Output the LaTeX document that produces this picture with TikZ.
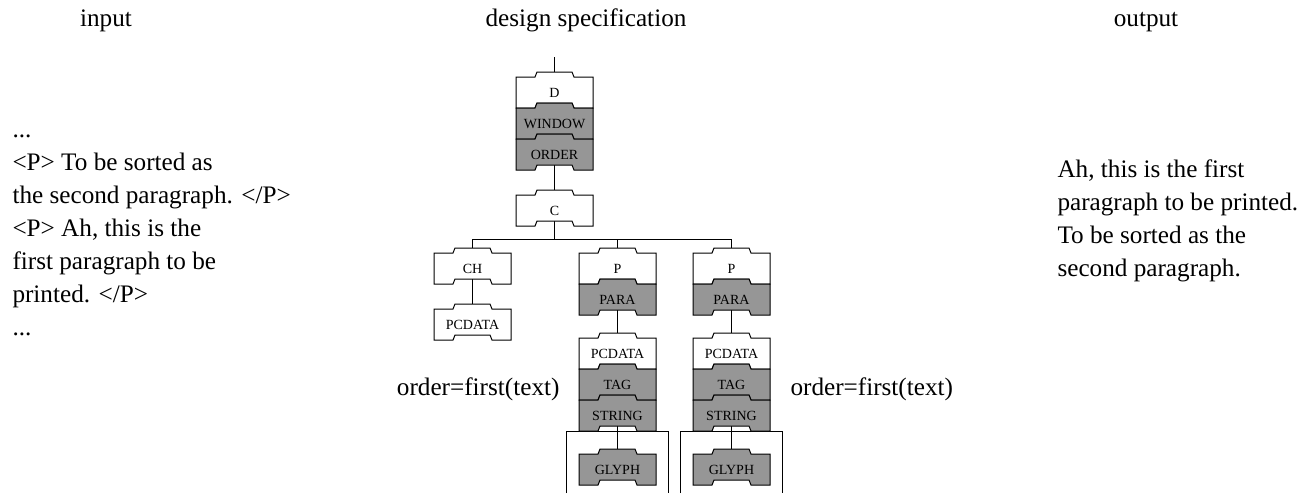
\documentclass[tikz,border=0pt]{standalone}
\usepackage{fontspec}
\setmainfont{Liberation Serif}
\usetikzlibrary{backgrounds}
\definecolor{g1}{RGB}{150,150,150}

% #1 fill, #2 name, #3 centre, #4 label
\newcommand\piece[4]{%
    \filldraw[fill=#1] (#3) ++(-38.5,15.5) -- ++(19,0) -- ++(2,5)
        -- ++(35,0) -- ++(2,-5) -- ++(19,0) -- ++(0,-31) -- ++(-19,0)
        -- ++(-2,5) -- ++(-35,0) -- ++(-2,-5) -- ++(-19,0) -- cycle;
    \node[piece] (#2) at (#3) {#4};
}

\begin{document}
\begin{tikzpicture}[
    x=0.5pt, y=0.5pt,
    line width=0.5pt,
    every node/.style={
        font=\fontsize{12.6}{16.5}\selectfont
    },
    piece/.style={
        minimum width=38.5pt, minimum height=15.5pt, inner sep=0pt,
        font=\fontsize{7}{8}\selectfont
    },
    txt/.style={
        align=left, anchor=north west, inner sep=0pt
    },
    lbl/.style={
        anchor=base, inner sep=0pt
    }
]
    \useasboundingbox (0,0) rectangle (1315,-493);

    \node[lbl] (input) at (106,-26) {input};
    \node[lbl] (spec) at (586,-26) {design specification};
    \node[lbl] (output) at (1146,-26) {output};

    \node[txt] (source) at (12,-114) {\strut...\\
        <P> To be sorted as\\
        the second paragraph. </P>\\
        <P> Ah, this is the\\
        first paragraph to be\\
        printed. </P>\\
        ...};
    \node[txt] (result) at (1057,-154) {\strut Ah, this is the first\\
        paragraph to be printed.\\
        To be sorted as the\\
        second paragraph.};

    \piece{white}{d}{554.5,-92.5}{D}
    \piece{g1}{window}{554.5,-123.5}{WINDOW}
    \piece{g1}{order}{554.5,-154.5}{ORDER}
    \piece{white}{c}{554.5,-210.5}{C}
    \piece{white}{ch}{472.5,-268.5}{CH}
    \piece{white}{pcdata}{472.5,-324.5}{PCDATA}

    \begin{scope}[shift={(617.5,0)}]
    \draw (-51,-493) |- (51,-431) -- (51,-493);
    \piece{white}{p1}{0,-268.5}{P}
    \piece{g1}{para1}{0,-299.5}{PARA}
    \piece{white}{pcdata1}{0,-353.5}{PCDATA}
    \piece{g1}{tag1}{0,-384.5}{TAG}
    \piece{g1}{string1}{0,-415.5}{STRING}
    \piece{g1}{glyph1}{0,-469.5}{GLYPH}
    \end{scope}
    \begin{scope}[shift={(731.5,0)}]
    \draw (-51,-493) |- (51,-431) -- (51,-493);
    \piece{white}{p2}{0,-268.5}{P}
    \piece{g1}{para2}{0,-299.5}{PARA}
    \piece{white}{pcdata2}{0,-353.5}{PCDATA}
    \piece{g1}{tag2}{0,-384.5}{TAG}
    \piece{g1}{string2}{0,-415.5}{STRING}
    \piece{g1}{glyph2}{0,-469.5}{GLYPH}
    \end{scope}

    \node[anchor=base east, inner sep=0pt] (rule1) at (560,-395) {order=first(text)};
    \node[anchor=base west, inner sep=0pt] (rule2) at (790,-395) {order=first(text)};

    \begin{scope}[on background layer]
    \coordinate (root) at (554.5,-57);
    \coordinate (fork) at (554.5,-239);
    \draw (root) -- (d.center);
    \draw (order.center) -- (c.center);
    \draw (c.center) -- (fork);
    \draw (fork) -| (ch.center);
    \draw (fork) -| (p1.center);
    \draw (fork) -| (p2.center);
    \draw (ch.center) -- (pcdata.center);
    \draw (para1.center) -- (pcdata1.center);
    \draw (para2.center) -- (pcdata2.center);
    \draw (string1.center) -- (glyph1.center);
    \draw (string2.center) -- (glyph2.center);
    \end{scope}

\end{tikzpicture}
\end{document}
